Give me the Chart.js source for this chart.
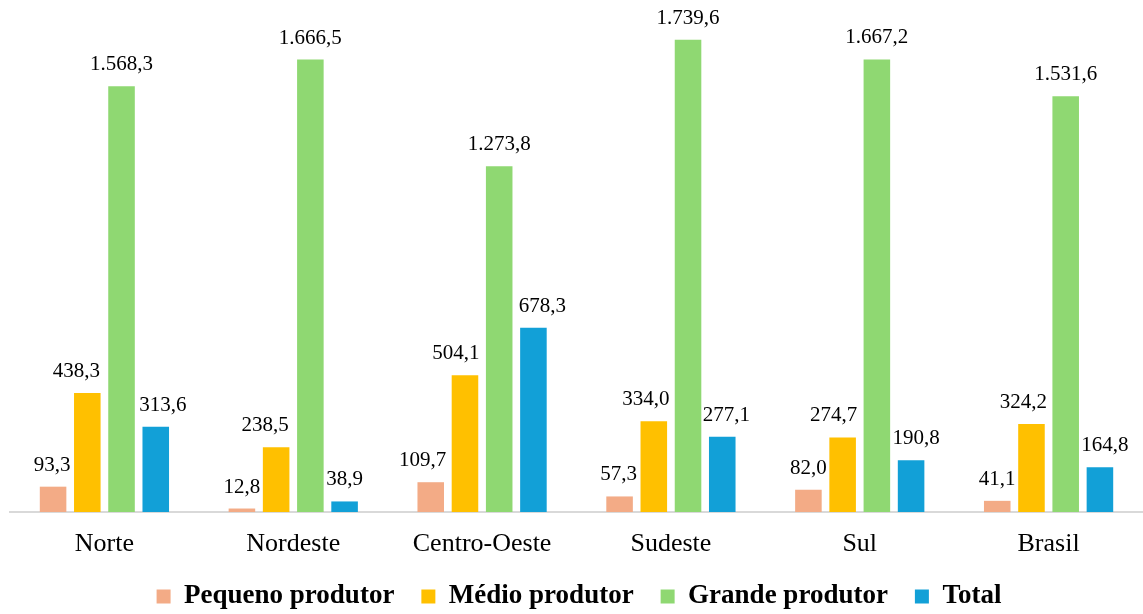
<!DOCTYPE html>
<html lang="pt-BR">
<head>
<meta charset="utf-8">
<title>Produtores por região</title>
<script src="https://cdn.jsdelivr.net/npm/chart.js@4/dist/chart.umd.min.js"></script>
<style>
  html, body { margin: 0; padding: 0; background: #ffffff; }
  #wrap { position: relative; width: 1143px; height: 614px; }
</style>
</head>
<body>
<div id="wrap"><canvas id="chart"></canvas></div>
<script>
// Regiões e valores por porte de produtor
const regioes = ['Norte', 'Nordeste', 'Centro-Oeste', 'Sudeste', 'Sul', 'Brasil'];
const pequenoProdutor = [93.3, 12.8, 109.7, 57.3, 82.0, 41.1];
const medioProdutor = [438.3, 238.5, 504.1, 334.0, 274.7, 324.2];
const grandeProdutor = [1568.3, 1666.5, 1273.8, 1739.6, 1667.2, 1531.6];
const totalProdutor = [313.6, 38.9, 678.3, 277.1, 190.8, 164.8];
const nomesSeries = ['Pequeno produtor', 'Médio produtor', 'Grande produtor', 'Total'];

// Horizontal nudges (px) for value labels, keeping them clear of the tall bars
const deslocPequeno = [-1, 0, -8, -1, 0, 0];
const deslocMedio = [-11, -11, -9, -8, -9, -8];
const deslocGrande = [0, 0, 0, 0, 0, 0];
const deslocTotal = [7, 0, 9, 4, 5, 5];
const deslocamentos = [deslocPequeno, deslocMedio, deslocGrande, deslocTotal];

const SERIF = "'Liberation Serif', 'Times New Roman', serif";
const LEGEND_H = 58;
const XAXIS_H = 44;

// 1.568,3 style number formatting
function formatarValor(v) {
  const partes = v.toFixed(1).split('.');
  return partes[0].replace(/\B(?=(\d{3})+(?!\d))/g, '.') + ',' + partes[1];
}

// Value labels above each bar
const rotulosValores = {
  id: 'rotulosValores',
  afterDatasetsDraw(chart) {
    const ctx = chart.ctx;
    ctx.save();
    ctx.font = '21px ' + SERIF;
    ctx.fillStyle = '#000000';
    ctx.textAlign = 'center';
    ctx.textBaseline = 'alphabetic';
    chart.data.datasets.forEach((ds, i) => {
      const meta = chart.getDatasetMeta(i);
      meta.data.forEach((bar, j) => {
        ctx.fillText(formatarValor(ds.data[j]), bar.x + deslocamentos[i][j], bar.y - 16);
      });
    });
    ctx.restore();
  }
};

// Keep the legend compact vertically while spacing items widely
const legendaCompacta = {
  id: 'legendaCompacta',
  beforeLayout(chart) {
    const lg = chart.legend;
    if (lg && !lg._compacta) {
      const fitOriginal = lg.fit;
      lg.fit = function () {
        fitOriginal.call(this);
        this.height = LEGEND_H;
      };
      lg._compacta = true;
    }
  }
};

new Chart(document.getElementById('chart'), {
  type: 'bar',
  data: {
    labels: regioes,
    datasets: [
      { label: nomesSeries[0], data: pequenoProdutor, backgroundColor: '#F3AB86' },
      { label: nomesSeries[1], data: medioProdutor, backgroundColor: '#FFC000' },
      { label: nomesSeries[2], data: grandeProdutor, backgroundColor: '#8FD872' },
      { label: nomesSeries[3], data: totalProdutor, backgroundColor: '#12A0D7' }
    ]
  },
  options: {
    responsive: true,
    maintainAspectRatio: false,
    animation: false,
    layout: { padding: { left: 10, right: -5, top: 0, bottom: 0 } },
    datasets: {
      bar: { categoryPercentage: 0.725, barPercentage: 0.776, borderWidth: 0 }
    },
    scales: {
      x: {
        grid: { display: false },
        border: { display: true, color: '#D9D9D9', width: 2 },
        ticks: { color: '#000000', font: { family: SERIF, size: 26 }, padding: 9 },
        afterFit(scale) { scale.height = XAXIS_H; }
      },
      y: {
        display: false,
        min: 0,
        max: 1886
      }
    },
    plugins: {
      legend: {
        position: 'bottom',
        labels: {
          color: '#000000',
          font: { family: SERIF, size: 27, weight: 'bold' },
          boxWidth: 14,
          boxHeight: 14,
          padding: 27
        }
      },
      tooltip: { enabled: false }
    }
  },
  plugins: [rotulosValores, legendaCompacta]
});
</script>
</body>
</html>
